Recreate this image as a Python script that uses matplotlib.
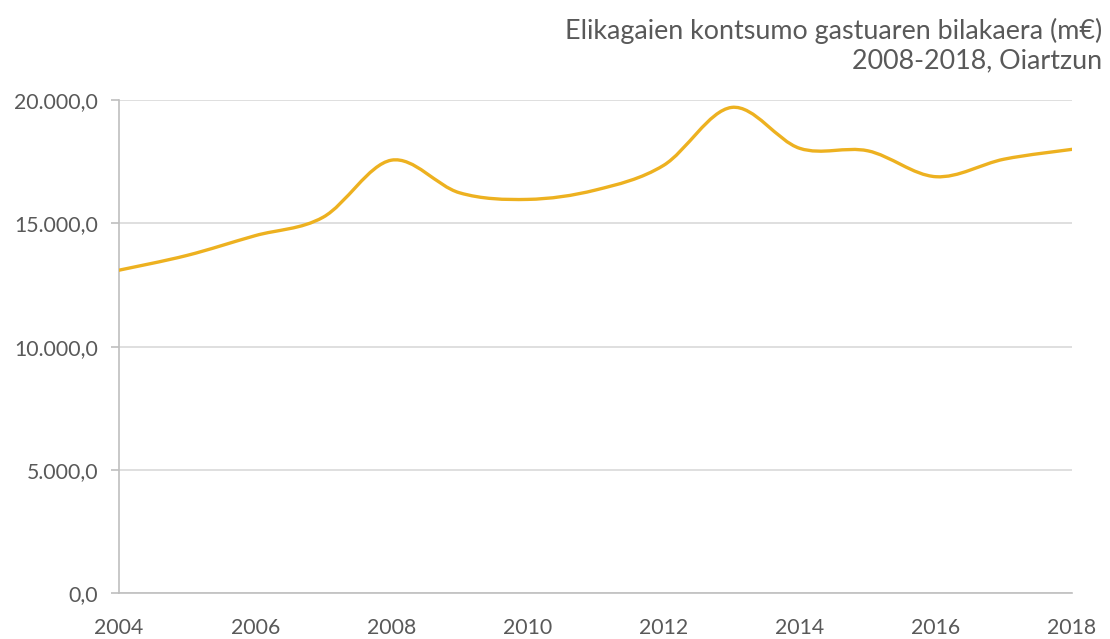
import matplotlib.pyplot as plt
from matplotlib.path import Path
from matplotlib.patches import PathPatch
from matplotlib.ticker import FuncFormatter
import numpy as np

# datos
urteak = [2004, 2005, 2006, 2007, 2008, 2009, 2010, 2011, 2012, 2013, 2014, 2015, 2016, 2017, 2018]
gastua = [13100, 13700, 14500, 15250, 17560, 16240, 15970, 16350, 17350, 19700, 18040, 17940, 16890, 17600, 18000]
x_ticks = [2004, 2006, 2008, 2010, 2012, 2014, 2016, 2018]
y_ticks = [0, 5000, 10000, 15000, 20000]
titulo = "Elikagaien kontsumo gastuaren bilakaera (m€)\n2008-2018, Oiartzun"

kolorea = '#EDB120'
gris = '#595959'
plt.rcParams['font.family'] = ['Lato', 'DejaVu Sans']


def formato(v, pos):
    # 20000 -> 20.000,0
    s = f"{v:,.1f}"
    return s.replace(',', 'X').replace('.', ',').replace('X', '.')


def curva_suave(xs, ys):
    # curva tipo excel (bezier con puntos de control catmull-rom)
    xs = np.asarray(xs, float)
    ys = np.asarray(ys, float)
    verts = [(xs[0], ys[0])]
    codes = [Path.MOVETO]
    n = len(xs)
    for i in range(n - 1):
        p0 = i - 1 if i > 0 else i
        p3 = i + 2 if i + 2 < n else i + 1
        c1 = (xs[i] + (xs[i + 1] - xs[p0]) / 6, ys[i] + (ys[i + 1] - ys[p0]) / 6)
        c2 = (xs[i + 1] - (xs[p3] - xs[i]) / 6, ys[i + 1] - (ys[p3] - ys[i]) / 6)
        verts += [c1, c2, (xs[i + 1], ys[i + 1])]
        codes += [Path.CURVE4] * 3
    return Path(verts, codes)


fig = plt.figure(figsize=[11.1, 6.39], dpi=100)
ax = fig.add_axes([0.1072, 0.0715, 0.8586, 0.772])

ax.add_patch(PathPatch(curva_suave(urteak, gastua), facecolor='none', edgecolor=kolorea,
                       linewidth=2.4, capstyle='round', zorder=3))

ax.set_xlim(2004, 2018)
ax.set_ylim(0, 20000)
ax.set_xticks(x_ticks)
ax.set_yticks(y_ticks)
ax.yaxis.set_major_formatter(FuncFormatter(formato))
ax.grid(axis='y', color='#D9D9D9', linewidth=1.2)
ax.set_axisbelow(True)

for lado in ['top', 'right']:
    ax.spines[lado].set_visible(False)
for lado in ['left', 'bottom']:
    ax.spines[lado].set_color('#BFBFBF')
    ax.spines[lado].set_linewidth(1.2)

ax.tick_params(axis='y', length=6, color='#BFBFBF', width=1.2, labelsize=15.3, labelcolor=gris, pad=9)
ax.tick_params(axis='x', length=0, labelsize=15.3, labelcolor=gris, pad=18)

fig.text(0.993, 1 - 18 / 639, titulo, ha='right', va='top', fontsize=19.4, color=gris, linespacing=1.22)

plt.savefig('out.png', dpi=100)
plt.close()
